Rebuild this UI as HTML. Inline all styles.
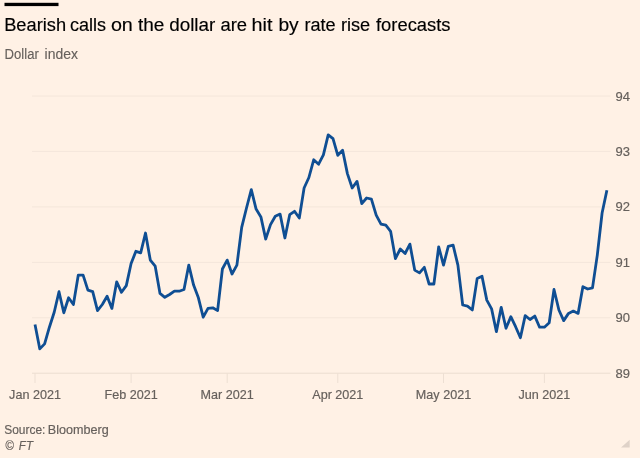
<!DOCTYPE html>
<html><head><meta charset="utf-8"><title>Dollar index</title>
<style>
html,body{margin:0;padding:0;background:#fff1e5;}
body{width:640px;height:458px;overflow:hidden;font-family:"Liberation Sans",sans-serif;}
svg{display:block}
.title{font-size:17.5px;fill:#000;stroke:#000;stroke-width:0.15px;}
.sub{font-size:14px;fill:#66605c;stroke:#66605c;stroke-width:0.12px;}
.lab{font-size:13px;fill:#66605c;stroke:#66605c;stroke-width:0.18px;}
.xlab{font-size:12.6px;fill:#66605c;stroke:#66605c;stroke-width:0.18px;}
.src{font-size:12.8px;fill:#66605c;stroke:#66605c;stroke-width:0.18px;}
.src2{font-size:12.4px;fill:#66605c;stroke:#66605c;stroke-width:0.15px;}
</style></head><body>
<svg width="640" height="458" viewBox="0 0 640 458" font-family="'Liberation Sans',sans-serif">
<rect width="640" height="458" fill="#fff1e5"/>
<rect x="4.5" y="2.8" width="54" height="3.3" fill="#000"/>
<text y="31.1" class="title" ><tspan x="4.20" textLength="61.95" lengthAdjust="spacingAndGlyphs">Bearish</tspan> <tspan x="69.98" textLength="36.05" lengthAdjust="spacingAndGlyphs">calls</tspan> <tspan x="110.90" textLength="21.94" lengthAdjust="spacingAndGlyphs">on</tspan> <tspan x="137.98" textLength="26.40" lengthAdjust="spacingAndGlyphs">the</tspan> <tspan x="169.19" textLength="46.15" lengthAdjust="spacingAndGlyphs">dollar</tspan> <tspan x="220.46" textLength="26.63" lengthAdjust="spacingAndGlyphs">are</tspan> <tspan x="251.59" textLength="20.90" lengthAdjust="spacingAndGlyphs">hit</tspan> <tspan x="278.40" textLength="20.33" lengthAdjust="spacingAndGlyphs">by</tspan> <tspan x="304.46" textLength="31.21" lengthAdjust="spacingAndGlyphs">rate</tspan> <tspan x="340.96" textLength="29.27" lengthAdjust="spacingAndGlyphs">rise</tspan> <tspan x="375.99" textLength="74.54" lengthAdjust="spacingAndGlyphs">forecasts</tspan></text>
<text y="58.6" class="sub" ><tspan x="4.56" textLength="34.26" lengthAdjust="spacingAndGlyphs">Dollar</tspan> <tspan x="44.55" textLength="33.37" lengthAdjust="spacingAndGlyphs">index</tspan></text>
<line x1="32" x2="610.5" y1="96.0" y2="96.0" stroke="#f4e6da" stroke-width="1"/>
<text x="615.5" y="100.5" class="lab">94</text>
<line x1="32" x2="610.5" y1="151.4" y2="151.4" stroke="#f4e6da" stroke-width="1"/>
<text x="615.5" y="155.9" class="lab">93</text>
<line x1="32" x2="610.5" y1="206.9" y2="206.9" stroke="#f4e6da" stroke-width="1"/>
<text x="615.5" y="211.4" class="lab">92</text>
<line x1="32" x2="610.5" y1="262.4" y2="262.4" stroke="#f4e6da" stroke-width="1"/>
<text x="615.5" y="266.9" class="lab">91</text>
<line x1="32" x2="610.5" y1="317.8" y2="317.8" stroke="#f4e6da" stroke-width="1"/>
<text x="615.5" y="322.3" class="lab">90</text>
<line x1="32" x2="610.5" y1="373.2" y2="373.2" stroke="#ebddd0" stroke-width="1"/>
<text x="615.5" y="377.8" class="lab">89</text>
<line x1="35.0" x2="35.0" y1="373.2" y2="383" stroke="#eddfd3" stroke-width="1"/>
<text x="35.0" y="398.7" class="xlab" text-anchor="middle">Jan 2021</text>
<line x1="131.1" x2="131.1" y1="373.2" y2="383" stroke="#eddfd3" stroke-width="1"/>
<text x="131.1" y="398.7" class="xlab" text-anchor="middle">Feb 2021</text>
<line x1="227.2" x2="227.2" y1="373.2" y2="383" stroke="#eddfd3" stroke-width="1"/>
<text x="227.2" y="398.7" class="xlab" text-anchor="middle">Mar 2021</text>
<line x1="337.8" x2="337.8" y1="373.2" y2="383" stroke="#eddfd3" stroke-width="1"/>
<text x="337.8" y="398.7" class="xlab" text-anchor="middle">Apr 2021</text>
<line x1="443.5" x2="443.5" y1="373.2" y2="383" stroke="#eddfd3" stroke-width="1"/>
<text x="443.5" y="398.7" class="xlab" text-anchor="middle">May 2021</text>
<line x1="544.4" x2="544.4" y1="373.2" y2="383" stroke="#eddfd3" stroke-width="1"/>
<text x="544.4" y="398.7" class="xlab" text-anchor="middle">Jun 2021</text>

<polyline fill="none" stroke="#0f4e93" stroke-width="2.8" stroke-linejoin="round" stroke-linecap="butt" points="35.0,324.5 39.8,348.9 44.6,343.9 49.4,327.2 54.2,312.3 59.0,291.7 63.8,312.8 68.6,297.8 73.4,304.5 78.3,275.1 83.1,275.1 87.9,290.1 92.7,291.7 97.5,310.6 102.3,304.5 107.1,296.2 111.9,308.4 116.7,281.8 121.5,292.3 126.3,285.6 131.1,263.5 135.9,251.3 140.7,252.9 145.5,233.0 150.3,260.1 155.2,266.2 160.0,293.4 164.8,297.3 169.6,294.5 174.4,291.2 179.2,291.2 184.0,289.5 188.8,265.1 193.6,285.1 198.4,297.8 203.2,317.2 208.0,308.4 212.8,307.8 217.6,310.6 222.4,269.0 227.2,260.1 232.0,274.0 236.9,265.1 241.7,227.4 246.5,208.0 251.3,189.7 256.1,209.1 260.9,216.9 265.7,239.1 270.5,224.6 275.3,216.3 280.1,214.1 284.9,238.0 289.7,214.7 294.5,211.3 299.3,218.0 304.1,188.0 308.9,177.5 313.7,159.8 318.6,164.2 323.4,154.8 328.2,134.8 333.0,138.7 337.8,155.3 342.6,150.3 347.4,173.6 352.2,188.0 357.0,181.4 361.8,203.6 366.6,198.0 371.4,199.1 376.2,215.2 381.0,224.1 385.8,225.2 390.6,231.3 395.4,258.5 400.3,249.0 405.1,253.5 409.9,244.1 414.7,270.1 419.5,272.9 424.3,267.3 429.1,284.0 433.9,284.0 438.7,246.8 443.5,265.1 448.3,246.3 453.1,245.2 457.9,265.1 462.7,305.0 467.5,306.2 472.3,310.0 477.2,278.4 482.0,276.2 486.8,300.1 491.6,308.9 496.4,331.7 501.2,307.3 506.0,328.3 510.8,316.7 515.6,326.7 520.4,337.8 525.2,315.6 530.0,319.5 534.8,316.1 539.6,327.2 544.4,327.2 549.2,322.8 554.0,289.5 558.9,310.0 563.7,320.6 568.5,313.4 573.3,311.1 578.1,313.4 582.9,286.7 587.7,289.0 592.5,287.9 597.3,255.1 602.1,213.0 606.9,190.3"/>
<text y="433.8" class="src" ><tspan x="4.23" textLength="41.20" lengthAdjust="spacingAndGlyphs">Source:</tspan> <tspan x="47.77" textLength="60.91" lengthAdjust="spacingAndGlyphs">Bloomberg</tspan></text>
<text y="449.8" class="src2" font-style="italic"><tspan x="5.37" textLength="8.53" lengthAdjust="spacingAndGlyphs">©</tspan> <tspan x="18.87" textLength="14.08" lengthAdjust="spacingAndGlyphs">FT</tspan></text>
<path d="M629.7 439.7 L629.7 447.6 L621 447.6 Z" fill="#dfd2c8"/>
</svg>
</body></html>
